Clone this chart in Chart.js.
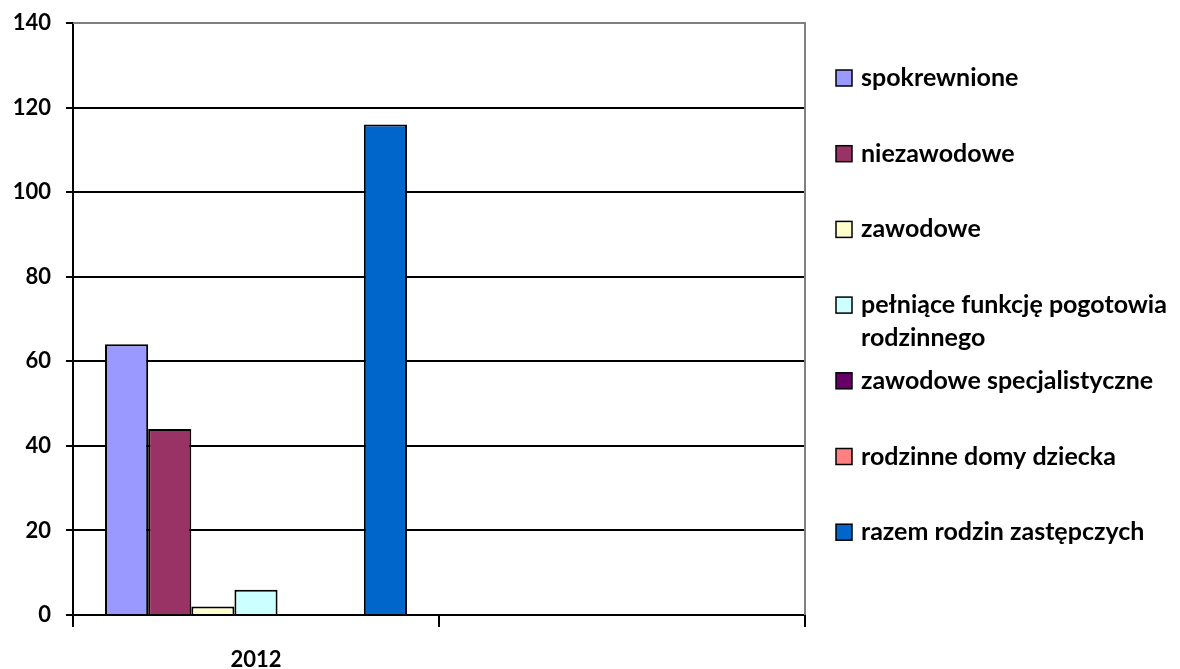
<!DOCTYPE html>
<html>
<head>
<meta charset="utf-8">
<script src="https://cdn.jsdelivr.net/npm/chart.js@4"></script>
<style>
  html, body { margin: 0; padding: 0; background: #fff; }
  #wrap { width: 1180px; height: 669px; }
</style>
</head>
<body>
<div id="wrap"><canvas id="chart" width="1180" height="669"></canvas></div>
<script>
// categories on the x axis (second one has no label and no data)
const categories = ['2012', ''];

// series names, values for 2012 and colours
const seriesNames = [
    'spokrewnione',
    'niezawodowe',
    'zawodowe',
    'pełniące funkcję pogotowia rodzinnego',
    'zawodowe specjalistyczne',
    'rodzinne domy dziecka',
    'razem rodzin zastępczych'
];
const values2012 = [64, 44, 2, 6, 0, 0, 116];
const seriesColors = ['#9999FF', '#993366', '#FFFFCC', '#CCFFFF', '#660066', '#FF8080', '#0066CC'];

const yTicks = [0, 20, 40, 60, 80, 100, 120, 140];

const axisFont = { family: 'Lato', size: 22, weight: 'bold', lineHeight: 1 };

let datasets = []
for (let i = 0; i < seriesNames.length; i++) {
    datasets.push({
        label: seriesNames[i],
        data: [values2012[i], null],
        backgroundColor: seriesColors[i],
        borderColor: '#000000',
        borderWidth: 2,
        borderSkipped: 'bottom'
    });
}

// legend drawn on the right, with text wrapping like the original
const sideLegend = {
    id: 'sideLegend',
    afterDraw(chart) {
        const ctx = chart.ctx;
        const area = chart.chartArea;
        ctx.save();
        // plot area frame (top and right)
        ctx.strokeStyle = '#808080';
        ctx.lineWidth = 2;
        ctx.beginPath();
        ctx.moveTo(area.left, area.top);
        ctx.lineTo(area.right, area.top);
        ctx.lineTo(area.right, area.bottom);
        ctx.stroke();

        ctx.font = 'bold 25px Lato';
        ctx.textBaseline = 'middle';
        const boxX = area.right + 31;
        const textX = boxX + 25;
        const maxW = chart.width - textX;
        let y = 78;
        const step = 75.7;
        chart.data.datasets.forEach((ds, i) => {
            const cy = y + i * step;
            ctx.fillStyle = ds.backgroundColor;
            ctx.fillRect(boxX, cy - 8, 16, 16);
            ctx.strokeStyle = '#000';
            ctx.lineWidth = 1.5;
            ctx.strokeRect(boxX, cy - 8, 16, 16);
            // wrap words
            const words = ds.label.split(' ');
            let lines = [];
            let line = '';
            words.forEach((w) => {
                const test = line ? line + ' ' + w : w;
                if (ctx.measureText(test).width > maxW && line) {
                    lines.push(line);
                    line = w;
                } else {
                    line = test;
                }
            });
            lines.push(line);
            ctx.fillStyle = '#000';
            lines.forEach((l, k) => {
                ctx.fillText(l, textX, cy + k * 33);
            });
        });
        ctx.restore();
    }
};

const config = {
    type: 'bar',
    data: {
        labels: categories,
        datasets: datasets
    },
    options: {
        responsive: false,
        animation: false,
        layout: { padding: { left: 0, right: 375, top: 23, bottom: 0 } },
        plugins: {
            legend: { display: false },
            tooltip: { enabled: false }
        },
        datasets: {
            bar: { categoryPercentage: 0.825, barPercentage: 1 }
        },
        scales: {
            x: {
                offset: true,
                grid: {
                    offset: true,
                    drawOnChartArea: false,
                    tickLength: 12,
                    tickColor: '#000',
                    lineWidth: 2
                },
                border: { color: '#000', width: 2 },
                ticks: { color: '#000', font: axisFont, padding: 22 },
                afterFit(scale) { scale.height = 54; }
            },
            y: {
                min: 0,
                max: 140,
                afterBuildTicks(scale) {
                    scale.ticks = yTicks.map(v => ({ value: v }));
                },
                grid: {
                    color: (c) => c.tick && c.tick.value === 140 ? '#808080' : '#000',
                    tickColor: '#000',
                    tickLength: 7,
                    lineWidth: 2
                },
                border: { color: '#000', width: 2 },
                ticks: { color: '#000', font: axisFont, padding: 15 },
                afterFit(scale) { scale.width = 73; scale.paddingTop = 0; scale.paddingBottom = 0; }
            }
        }
    },
    plugins: [sideLegend]
};

const myChart = new Chart(document.getElementById('chart'), config);
</script>
</body>
</html>
